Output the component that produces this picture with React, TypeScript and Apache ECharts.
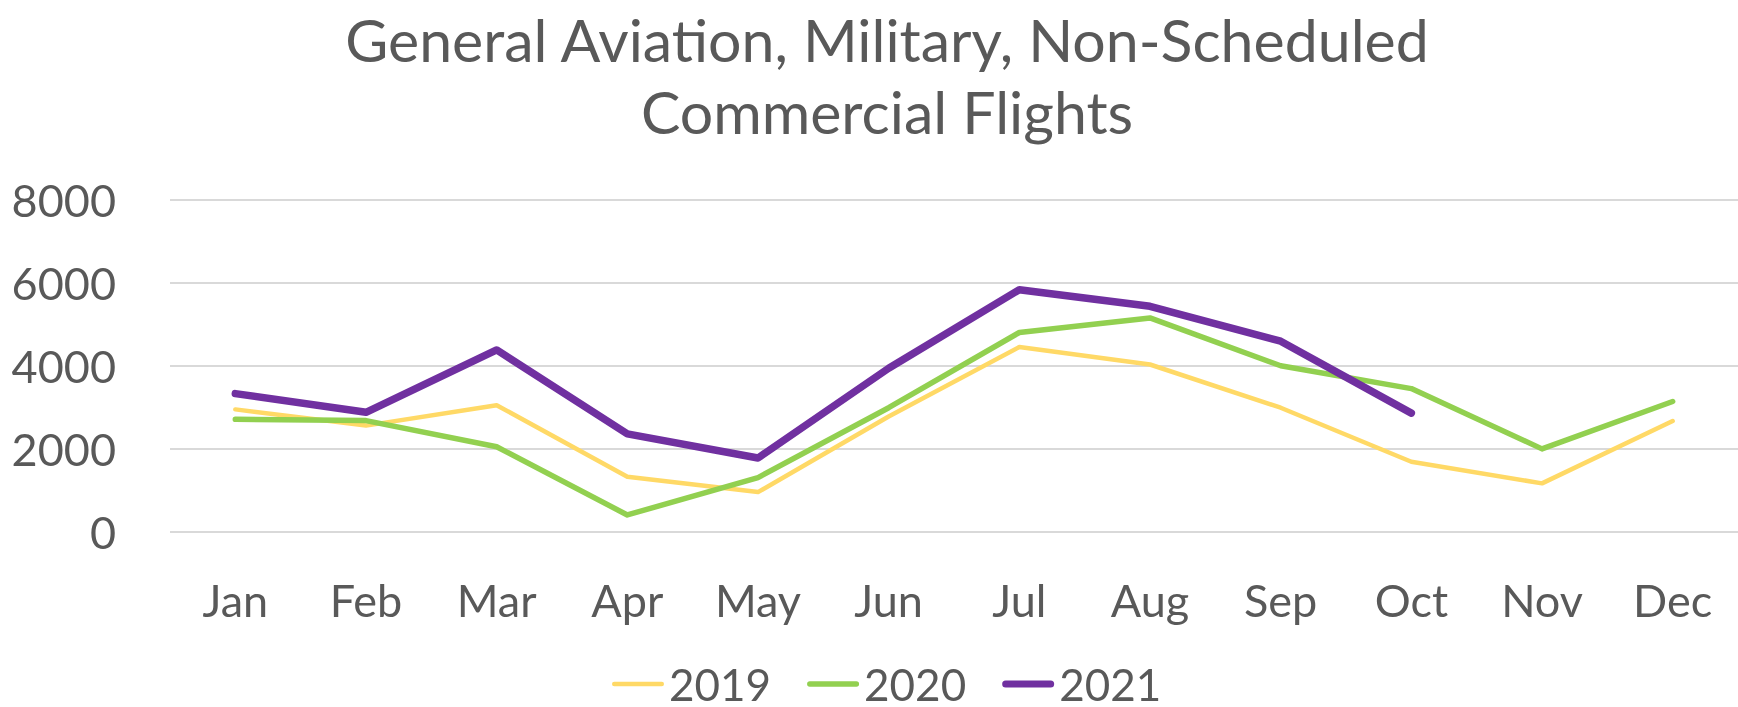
import React, { useEffect, useRef } from "react";
import * as echarts from "echarts";

const months = ["Jan", "Feb", "Mar", "Apr", "May", "Jun", "Jul", "Aug", "Sep", "Oct", "Nov", "Dec"];
const data2019 = [2950, 2560, 3050, 1330, 960, 2780, 4450, 4030, 2990, 1690, 1170, 2670];
const data2020 = [2710, 2680, 2050, 410, 1310, 2990, 4800, 5150, 4000, 3450, 2000, 3140];
const data2021 = [3330, 2880, 4380, 2360, 1780, 3940, 5830, 5430, 4590, 2860, null, null];
const yTicks = { min: 0, max: 8000, interval: 2000 };
const titleLines = ["General Aviation, Military, Non-Scheduled", "Commercial Flights"];

const FONT = "Lato, 'Open Sans', sans-serif";
const TEXT = "#595959";

function pill(w: number, h: number) {
  const r = h / 2;
  return `path://M${r},0 L${w - r},0 A${r},${r} 0 0 1 ${w - r},${h} L${r},${h} A${r},${r} 0 0 1 ${r},0 Z`;
}

export default function App() {
  const ref = useRef<HTMLDivElement>(null);
  useEffect(() => {
    document.body.style.margin = "0";
    const chart = echarts.init(ref.current!, undefined, { renderer: "svg" });
    const mk = (name: string, data: (number | null)[], color: string, width: number, z: number) => ({
      name,
      type: "line",
      data,
      showSymbol: false,
      symbol: "none",
      z,
      itemStyle: { color },
      lineStyle: { color, width, cap: "round", join: "round" },
    });
    const titleText = (text: string, y: number) => ({
      type: "text",
      x: 887,
      y,
      style: {
        text,
        textAlign: "center",
        textVerticalAlign: "middle",
        fontSize: 59,
        fontFamily: FONT,
        fill: TEXT,
      },
    });
    chart.setOption({
      animation: false,
      textStyle: { fontFamily: FONT },
      graphic: [titleText(titleLines[0], 39), titleText(titleLines[1], 111)],
      legend: {
        left: 612,
        top: 662,
        padding: 0,
        itemWidth: 52,
        itemHeight: 14,
        itemGap: 36,
        symbolKeepAspect: true,
        textStyle: { fontSize: 44, color: TEXT, fontFamily: FONT, lineHeight: 40 },
        data: [
          { name: "2019", icon: pill(52, 4.5) },
          { name: "2020", icon: pill(52, 5.5) },
          { name: "2021", icon: pill(52, 7) },
        ],
      },
      grid: { left: 170, top: 199.5, width: 1577, height: 332.5, containLabel: false },
      xAxis: {
        type: "category",
        data: months,
        boundaryGap: true,
        axisLine: { show: false },
        axisTick: { show: false },
        axisLabel: { fontSize: 45, color: TEXT, margin: 45, fontFamily: FONT },
      },
      yAxis: {
        type: "value",
        min: yTicks.min,
        max: yTicks.max,
        interval: yTicks.interval,
        axisLine: { show: false },
        axisTick: { show: false },
        axisLabel: {
          fontSize: 45,
          color: TEXT,
          margin: 54,
          fontFamily: FONT,
          formatter: (v: number) => String(v),
        },
        splitLine: { lineStyle: { color: "#d9d9d9", width: 2 } },
      },
      series: [
        mk("2019", data2019, "#FFD966", 4.5, 2),
        mk("2020", data2020, "#92D050", 5.5, 3),
        mk("2021", data2021, "#7030A0", 7.5, 4),
      ],
    });
    return () => chart.dispose();
  }, []);
  return <div ref={ref} style={{ position: "fixed", left: 0, top: 0, width: 1738, height: 707 }} />;
}
